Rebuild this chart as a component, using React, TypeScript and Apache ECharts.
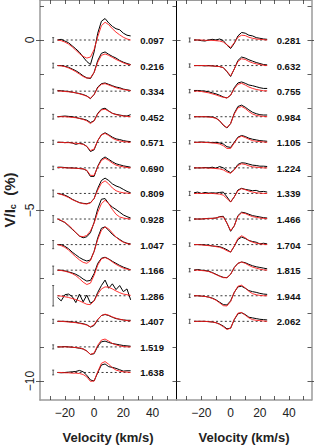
import React, { useEffect, useRef } from 'react';
import * as echarts from 'echarts';

const velocity = [-25, -22.5, -20, -17.5, -15, -12.5, -10, -7.5, -5, -2.5, 0, 2.5, 5, 7.5, 10, 12.5, 15, 17.5, 20, 22.5, 25];

const phasesLeft = ['0.097', '0.216', '0.334', '0.452', '0.571', '0.690', '0.809', '0.928', '1.047', '1.166', '1.286', '1.407', '1.519', '1.638'];
const phasesRight = ['0.281', '0.632', '0.755', '0.984', '1.105', '1.224', '1.339', '1.466', '1.704', '1.815', '1.944', '2.062'];

const obsLeft: number[][] = [
  [0, 0.02, -0.03, -0.08, -0.17, -0.26, -0.36, -0.5, -0.63, -0.72, -0.35, 0.2, 0.55, 0.63, 0.5, 0.4, 0.33, 0.3, 0.2, 0.14, 0.12],
  [0, 0, -0.02, -0.05, -0.1, -0.15, -0.22, -0.3, -0.36, -0.38, -0.2, 0.15, 0.36, 0.4, 0.33, 0.27, 0.22, 0.15, 0.1, 0.06, 0.03],
  [0.02, 0.01, 0, -0.01, -0.03, -0.05, -0.07, -0.1, -0.14, -0.22, -0.1, 0.12, 0.22, 0.24, 0.2, 0.16, 0.12, 0.1, 0.06, 0.04, 0.02],
  [0, 0.01, 0.02, 0.01, 0, -0.02, -0.05, -0.07, -0.1, -0.17, -0.12, 0.1, 0.22, 0.25, 0.17, 0.1, 0.07, 0.05, 0.03, 0.02, 0.06],
  [0, 0, -0.01, 0, -0.02, -0.06, -0.03, -0.05, -0.12, -0.27, -0.22, 0.05, 0.22, 0.28, 0.22, 0.15, 0.1, 0.08, 0.05, 0.03, 0.02],
  [0.02, 0.02, 0.01, 0, 0, -0.01, -0.02, -0.03, -0.08, -0.25, -0.25, 0.05, 0.25, 0.32, 0.25, 0.18, 0.12, 0.09, 0.06, 0.04, 0.02],
  [0, -0.02, -0.05, -0.1, -0.17, -0.22, -0.27, -0.29, -0.3, -0.27, -0.15, 0.15, 0.38, 0.45, 0.38, 0.28, 0.22, 0.18, 0.12, 0.06, 0.02],
  [0, -0.05, -0.1, -0.2, -0.3, -0.4, -0.5, -0.55, -0.52, -0.4, -0.1, 0.3, 0.58, 0.6, 0.45, 0.35, 0.28, 0.2, 0.12, 0.07, 0.03],
  [0, 0, -0.05, -0.12, -0.22, -0.3, -0.38, -0.44, -0.48, -0.45, -0.2, 0.2, 0.48, 0.52, 0.42, 0.3, 0.22, 0.15, 0.08, 0.04, 0.02],
  [0, 0, -0.02, -0.05, -0.08, -0.12, -0.18, -0.26, -0.32, -0.3, -0.1, 0.2, 0.35, 0.38, 0.33, 0.26, 0.2, 0.14, 0.09, 0.05, 0.01],
  [-0.05, -0.15, 0.03, 0.05, -0.02, -0.2, 0.05, -0.18, 0.02, -0.22, -0.15, 0.1, 0.3, 0.46, 0.22, 0.35, 0.18, 0.3, 0.12, 0.2, -0.12],
  [0, 0, 0, -0.01, -0.02, -0.03, -0.05, -0.07, -0.1, -0.17, -0.12, 0.05, 0.17, 0.2, 0.17, 0.12, 0.08, 0.06, 0.04, 0.03, 0.03],
  [0, 0, 0.01, 0, -0.01, -0.02, -0.04, -0.06, -0.12, -0.22, -0.2, 0.02, 0.15, 0.17, 0.13, 0.1, 0.08, 0.06, 0.04, 0.03, 0.02],
  [0, -0.01, 0, 0.01, 0.02, 0.03, 0.06, 0.02, -0.08, -0.22, -0.25, 0, 0.22, 0.25, 0.17, 0.15, 0.12, 0.08, 0.04, 0.05, 0.05],
];

const modLeft: number[][] = [
  [0, -0.02, -0.06, -0.12, -0.2, -0.3, -0.4, -0.48, -0.53, -0.5, -0.28, 0.1, 0.42, 0.52, 0.45, 0.33, 0.23, 0.15, 0.08, 0.03, 0],
  [0, -0.01, -0.03, -0.07, -0.12, -0.18, -0.25, -0.32, -0.37, -0.36, -0.2, 0.1, 0.3, 0.34, 0.3, 0.24, 0.18, 0.13, 0.08, 0.04, 0.02],
  [0.01, 0, -0.01, -0.02, -0.03, -0.05, -0.08, -0.11, -0.15, -0.21, -0.1, 0.1, 0.2, 0.22, 0.18, 0.14, 0.1, 0.07, 0.05, 0.03, 0.01],
  [0, 0, 0, -0.01, -0.02, -0.03, -0.05, -0.08, -0.12, -0.2, -0.12, 0.08, 0.2, 0.22, 0.16, 0.1, 0.06, 0.04, 0.02, 0.01, 0],
  [0, 0, -0.01, -0.01, -0.02, -0.03, -0.04, -0.06, -0.12, -0.24, -0.2, 0.05, 0.22, 0.26, 0.2, 0.12, 0.07, 0.04, 0.02, 0.01, 0],
  [0.01, 0.01, 0, 0, -0.01, -0.01, -0.02, -0.03, -0.07, -0.22, -0.22, 0.03, 0.22, 0.28, 0.22, 0.14, 0.08, 0.05, 0.03, 0.01, 0],
  [0, -0.03, -0.07, -0.12, -0.18, -0.23, -0.27, -0.3, -0.31, -0.28, -0.15, 0.1, 0.3, 0.37, 0.28, 0.16, 0.08, 0.04, 0.02, 0.01, 0],
  [0, -0.04, -0.1, -0.18, -0.28, -0.4, -0.5, -0.52, -0.48, -0.35, -0.12, 0.2, 0.45, 0.55, 0.45, 0.28, 0.14, 0.06, 0.03, 0.01, 0],
  [0, -0.03, -0.08, -0.16, -0.26, -0.36, -0.45, -0.52, -0.55, -0.47, -0.2, 0.15, 0.42, 0.52, 0.46, 0.34, 0.22, 0.13, 0.07, 0.03, 0.01],
  [0, -0.01, -0.03, -0.06, -0.1, -0.16, -0.25, -0.35, -0.42, -0.38, -0.15, 0.15, 0.33, 0.37, 0.32, 0.24, 0.17, 0.11, 0.06, 0.03, 0.01],
  [0, -0.01, -0.03, -0.05, -0.08, -0.11, -0.15, -0.2, -0.25, -0.26, -0.15, 0.05, 0.2, 0.26, 0.25, 0.2, 0.14, 0.09, 0.05, 0.03, 0.01],
  [0, 0, -0.01, -0.02, -0.03, -0.04, -0.06, -0.08, -0.11, -0.16, -0.1, 0.06, 0.17, 0.21, 0.18, 0.13, 0.09, 0.06, 0.04, 0.02, 0.01],
  [0, 0, 0, 0, -0.01, -0.02, -0.03, -0.06, -0.12, -0.22, -0.18, 0.05, 0.2, 0.23, 0.17, 0.1, 0.06, 0.03, 0.01, 0, 0],
  [0, 0, -0.01, -0.01, -0.02, -0.02, -0.03, -0.06, -0.13, -0.26, -0.25, 0.02, 0.27, 0.32, 0.24, 0.14, 0.07, 0.04, 0.02, 0.01, 0],
];

const obsRight: number[][] = [
  [0, 0, -0.02, -0.03, 0, 0.02, 0, 0.03, -0.02, -0.15, -0.25, -0.1, 0.12, 0.22, 0.2, 0.14, 0.12, 0.07, 0.05, 0.03, 0.02],
  [0, 0, 0, -0.01, 0, -0.01, -0.02, -0.03, -0.06, -0.18, -0.32, -0.1, 0.15, 0.25, 0.22, 0.17, 0.13, 0.09, 0.06, 0.03, 0.02],
  [0.02, 0.02, 0.01, 0, -0.02, -0.05, -0.08, -0.12, -0.17, -0.2, -0.12, 0.1, 0.24, 0.27, 0.23, 0.18, 0.16, 0.13, 0.1, 0.08, 0.08],
  [0, 0, 0, 0, 0, -0.01, -0.04, -0.12, -0.25, -0.33, -0.2, 0.1, 0.3, 0.34, 0.28, 0.2, 0.13, 0.09, 0.06, 0.05, 0.05],
  [0, 0, 0.01, 0, 0, -0.01, 0, -0.02, -0.05, -0.13, -0.15, 0, 0.15, 0.2, 0.17, 0.12, 0.09, 0.07, 0.05, 0.04, 0.03],
  [0, 0, 0, 0.01, 0, 0.02, -0.01, 0.04, 0, -0.08, -0.14, -0.05, 0.1, 0.15, 0.14, 0.11, 0.08, 0.07, 0.05, 0.05, 0.04],
  [0.02, 0.04, 0, 0.03, 0.01, 0.02, 0.01, 0.03, 0.04, -0.1, -0.25, -0.1, 0.1, 0.15, 0.12, 0.1, 0.08, 0.09, 0.05, 0.06, 0.04],
  [0, 0, 0, 0.01, 0.02, 0.02, 0.03, 0.07, 0.08, -0.12, -0.36, -0.2, 0.1, 0.2, 0.18, 0.14, 0.1, 0.08, 0.06, 0.04, 0.03],
  [0, 0, 0, -0.01, -0.02, -0.04, -0.05, -0.06, -0.1, -0.15, -0.22, -0.05, 0.15, 0.22, 0.18, 0.12, 0.09, 0.07, 0.02, 0.04, 0.02],
  [0, 0.02, 0, -0.01, -0.03, -0.07, -0.12, -0.17, -0.21, -0.22, -0.12, 0.08, 0.2, 0.24, 0.22, 0.17, 0.13, 0.1, 0.08, 0.06, 0.04],
  [0, 0, -0.01, -0.02, -0.04, -0.07, -0.12, -0.19, -0.26, -0.27, -0.15, 0.1, 0.26, 0.28, 0.22, 0.15, 0.12, 0.1, 0.07, 0.05, 0.04],
  [0, 0, 0, 0, -0.01, -0.02, -0.04, -0.08, -0.14, -0.22, -0.2, 0.05, 0.22, 0.25, 0.2, 0.12, 0.1, 0.08, 0.06, 0.05, 0.04],
];

const modRight: number[][] = [
  [0, 0, 0, -0.01, -0.01, -0.01, -0.02, -0.03, -0.06, -0.14, -0.22, -0.08, 0.08, 0.14, 0.13, 0.08, 0.05, 0.03, 0.02, 0.01, 0],
  [0, 0, 0, 0, -0.01, -0.01, -0.02, -0.03, -0.06, -0.17, -0.3, -0.1, 0.12, 0.2, 0.18, 0.12, 0.08, 0.05, 0.03, 0.01, 0],
  [0, 0, -0.01, -0.03, -0.05, -0.08, -0.11, -0.15, -0.18, -0.2, -0.12, 0.07, 0.2, 0.23, 0.18, 0.12, 0.08, 0.05, 0.03, 0.01, 0.01],
  [0, 0, 0, 0, -0.01, -0.02, -0.05, -0.12, -0.24, -0.32, -0.2, 0.08, 0.26, 0.3, 0.24, 0.15, 0.08, 0.04, 0.02, 0.01, 0],
  [0, 0, 0, 0, -0.01, -0.02, -0.03, -0.05, -0.1, -0.18, -0.18, -0.02, 0.13, 0.18, 0.14, 0.09, 0.05, 0.03, 0.02, 0.01, 0],
  [0, 0, 0, 0, -0.01, -0.01, -0.02, -0.03, -0.06, -0.12, -0.16, -0.06, 0.07, 0.12, 0.1, 0.06, 0.03, 0.02, 0.01, 0, 0],
  [0, 0, 0, 0, 0, 0, -0.01, -0.02, -0.05, -0.15, -0.25, -0.1, 0.08, 0.14, 0.11, 0.07, 0.04, 0.02, 0.01, 0, 0],
  [0, 0, 0, 0.01, 0.01, 0.02, 0.03, 0.06, 0.06, -0.12, -0.34, -0.2, 0.08, 0.18, 0.16, 0.11, 0.07, 0.05, 0.03, 0.02, 0.01],
  [0, 0, -0.01, -0.02, -0.03, -0.04, -0.06, -0.08, -0.12, -0.18, -0.22, -0.04, 0.18, 0.26, 0.2, 0.12, 0.07, 0.04, 0.02, 0.01, 0],
  [0, 0, -0.01, -0.02, -0.04, -0.08, -0.13, -0.18, -0.22, -0.22, -0.12, 0.07, 0.2, 0.24, 0.2, 0.14, 0.09, 0.06, 0.03, 0.01, 0],
  [0, 0, -0.01, -0.02, -0.04, -0.08, -0.13, -0.21, -0.29, -0.3, -0.17, 0.1, 0.28, 0.31, 0.23, 0.13, 0.06, 0.03, 0.01, 0, 0],
  [0, 0, 0, 0, -0.01, -0.02, -0.04, -0.09, -0.16, -0.24, -0.2, 0.06, 0.24, 0.26, 0.18, 0.1, 0.05, 0.03, 0.02, 0.01, 0],
];

const errLeft = [0.07, 0.07, 0.06, 0.07, 0.06, 0.05, 0.1, 0.1, 0.12, 0.12, 0.3, 0.06, 0.06, 0.07];
const errRight = [0.06, 0.05, 0.05, 0.06, 0.05, 0.05, 0.06, 0.05, 0.05, 0.05, 0.05, 0.06];

const offsetStep = 0.75;
const errorBarVelocity = -28;
const labelVelocity = 31.5;
const zeroLineRange = [-25, 25];

const yTickValues = [-10, -9, -8, -7, -6, -5, -4, -3, -2, -1, 0, 1];
const yLabelValues = [-10, -5, 0];
const xTickValues = [-30, -20, -10, 0, 10, 20, 30, 40, 50];
const xLabelValues = [-20, 0, 20, 40];

const FONT = '"Liberation Sans", Arial, Helvetica, sans-serif';
const Y_MIN = -10.557;
const Y_MAX = 1.173;
const X_MIN = -37;
const X_MAX_L = 56.36;
const X_MAX_R = 55.3;
const GRAY = '#9a9a9a';

const fmtNum = (v: number) => (v < 0 ? '\u2212' + Math.abs(v) : String(v));

function buildPanel(xIdx: number, yIdx: number, obs: number[][], mod: number[][], err: number[], phases: string[]) {
  const series: any[] = [];
  obs.forEach((prof, i) => {
    const off = -offsetStep * i;
    series.push({
      type: 'line', xAxisIndex: xIdx, yAxisIndex: yIdx, showSymbol: false, silent: true,
      data: zeroLineRange.map((v) => [v, off]),
      lineStyle: { color: '#222', width: 0.9, type: [2, 2.4] },
    });
    series.push({
      type: 'line', xAxisIndex: xIdx, yAxisIndex: yIdx, showSymbol: false, silent: true,
      data: velocity.map((v, j) => [v, off + prof[j]]),
      lineStyle: { color: '#000', width: 1 },
    });
    series.push({
      type: 'line', xAxisIndex: xIdx, yAxisIndex: yIdx, showSymbol: false, silent: true,
      data: velocity.map((v, j) => [v, off + mod[i][j]]),
      lineStyle: { color: '#ff1a1a', width: 0.9 },
    });
  });
  series.push({
    type: 'custom', xAxisIndex: xIdx, yAxisIndex: yIdx, silent: true,
    data: err.map((e, i) => [errorBarVelocity, -offsetStep * i, e]),
    renderItem: (params: any, api: any) => {
      const x = api.value(0), y = api.value(1), h = api.value(2);
      const t = api.coord([x, y + h]);
      const b = api.coord([x, y - h]);
      const st = { stroke: '#333', lineWidth: 0.8 };
      return {
        type: 'group',
        children: [
          { type: 'line', shape: { x1: t[0], y1: t[1], x2: b[0], y2: b[1] }, style: st },
          { type: 'line', shape: { x1: t[0] - 1, y1: t[1], x2: t[0] + 1, y2: t[1] }, style: st },
          { type: 'line', shape: { x1: b[0] - 1, y1: b[1], x2: b[0] + 1, y2: b[1] }, style: st },
        ],
      };
    },
  });
  series.push({
    type: 'custom', xAxisIndex: xIdx, yAxisIndex: yIdx, silent: true,
    data: phases.map((p, i) => [labelVelocity, -offsetStep * i]),
    renderItem: (params: any, api: any) => {
      const p = api.coord([api.value(0), api.value(1)]);
      return {
        type: 'text', x: p[0], y: p[1] + 0.5,
        style: { text: phases[params.dataIndex], fontSize: 9.5, fontWeight: 'bold', fontFamily: FONT, fill: '#111', align: 'left', verticalAlign: 'middle' },
      };
    },
  });
  return series;
}

function xAxes(grid: number, max: number) {
  return [
    {
      type: 'value', gridIndex: grid, position: 'bottom', min: X_MIN, max,
      axisLine: { show: true, onZero: false, lineStyle: { color: GRAY, width: 1.5 } },
      axisTick: { show: true, inside: true, length: 4, customValues: xTickValues, lineStyle: { color: '#333', width: 0.8 } },
      axisLabel: { show: true, customValues: xLabelValues, formatter: fmtNum, fontSize: 12, color: '#222', fontFamily: FONT, margin: 7 },
      splitLine: { show: false },
    },
    {
      type: 'value', gridIndex: grid, position: 'top', min: X_MIN, max,
      axisLine: { show: true, onZero: false, lineStyle: { color: GRAY, width: 1 } },
      axisTick: { show: true, inside: true, length: 4, customValues: xTickValues, lineStyle: { color: '#333', width: 0.8 } },
      axisLabel: { show: false },
      splitLine: { show: false },
    },
  ];
}

function yAxis(grid: number, position: string, opts: any) {
  const base: any = {
    type: 'value', gridIndex: grid, position, offset: 0, min: Y_MIN, max: Y_MAX,
    splitLine: { show: false },
    axisLine: { show: false, onZero: false },
    axisLabel: { show: false },
    axisTick: { show: false },
  };
  const merged = { ...base, ...opts };
  merged.axisLine = { ...(opts.axisLine || { show: false }), onZero: false };
  return merged;
}

export default function App() {
  const ref = useRef<HTMLDivElement>(null);
  useEffect(() => {
    document.body.style.margin = '0';
    const chart = echarts.init(ref.current!, undefined, { renderer: 'svg' });
    const tickStyle = { color: '#333', width: 0.8 };
    const option: any = {
      animation: false,
      grid: [
        { left: 40, top: 0, width: 136.5, height: 400 },
        { left: 176.5, top: 0, width: 135, height: 400 },
      ],
      xAxis: [...xAxes(0, X_MAX_L), ...xAxes(1, X_MAX_R)],
      yAxis: [
        yAxis(0, 'left', {
          axisLine: { show: true, lineStyle: { color: GRAY, width: 1.5 } },
          axisTick: { show: true, inside: true, length: 4, customValues: yTickValues, lineStyle: tickStyle },
        }),
        yAxis(0, 'left', {
          axisTick: { show: true, inside: false, length: 4, customValues: yLabelValues, lineStyle: tickStyle },
          axisLabel: { show: true, customValues: yLabelValues, formatter: fmtNum, rotate: 90, fontSize: 12, color: '#222', fontFamily: FONT, margin: 4 },
        }),
        yAxis(0, 'right', {
          axisLine: { show: true, lineStyle: { color: '#000', width: 1 } },
          axisTick: { show: true, inside: true, length: 4, customValues: yTickValues, lineStyle: tickStyle },
        }),
        yAxis(0, 'right', {
          axisTick: { show: true, inside: false, length: 4, customValues: yLabelValues, lineStyle: tickStyle },
        }),
        yAxis(1, 'left', {}),
        yAxis(1, 'right', {
          axisLine: { show: true, lineStyle: { color: GRAY, width: 1.5 } },
          axisTick: { show: true, inside: true, length: 4, customValues: yTickValues, lineStyle: tickStyle },
        }),
        yAxis(1, 'right', {
          axisTick: { show: true, inside: false, length: 3, customValues: yLabelValues, lineStyle: tickStyle },
        }),
      ],
      series: [
        ...buildPanel(0, 0, obsLeft, modLeft, errLeft, phasesLeft),
        ...buildPanel(2, 4, obsRight, modRight, errRight, phasesRight),
      ],
      graphic: [
        { type: 'text', x: 108, y: 437, style: { text: 'Velocity (km/s)', fontSize: 13, fontWeight: 'bold', fontFamily: FONT, fill: '#222', align: 'center', verticalAlign: 'middle' } },
        { type: 'text', x: 244, y: 437, style: { text: 'Velocity (km/s)', fontSize: 13, fontWeight: 'bold', fontFamily: FONT, fill: '#222', align: 'center', verticalAlign: 'middle' } },
        {
          type: 'text', x: 9, y: 200, rotation: Math.PI / 2,
          style: {
            text: '{a|V/I}{b|c}{a|  (%)}', fontFamily: FONT, fill: '#222', align: 'center', verticalAlign: 'middle',
            rich: {
              a: { fontSize: 15, fontWeight: 'bold', fontFamily: FONT, fill: '#222' },
              b: { fontSize: 9, fontWeight: 'bold', fontFamily: FONT, fill: '#222', verticalAlign: 'bottom', padding: [8, 0, 0, 0] },
            },
          },
        },
      ],
    };
    chart.setOption(option);
    return () => chart.dispose();
  }, []);
  return <div ref={ref} style={{ width: 314, height: 447 }} />;
}
